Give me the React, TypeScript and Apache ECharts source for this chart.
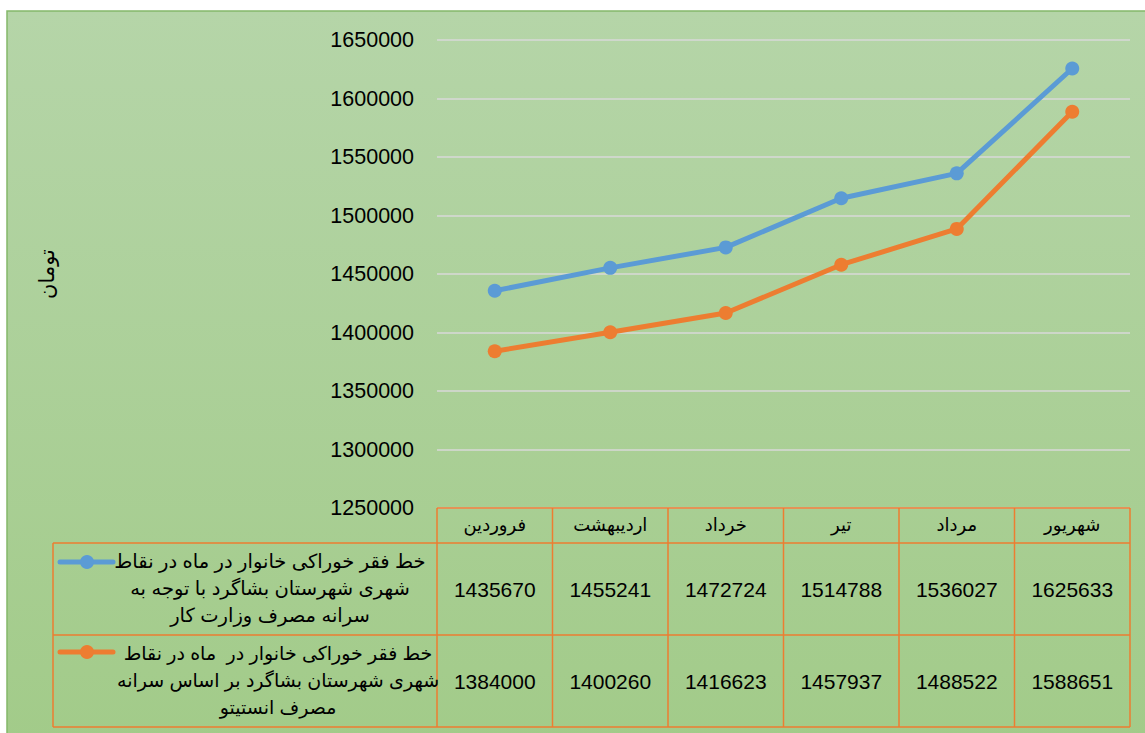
import React, { useEffect, useRef } from "react";
import * as echarts from "echarts";

const categories = ["فروردین", "اردیبهشت", "خرداد", "تیر", "مرداد", "شهریور"];
const seriesNames = [
  "خط فقر خوراکی خانوار در ماه در نقاط\nشهری شهرستان بشاگرد با توجه به\nسرانه مصرف وزارت کار",
  "خط فقر خوراکی خانوار در  ماه در نقاط\nشهری شهرستان بشاگرد بر اساس سرانه\nمصرف انستیتو",
];
const ministryValues = [1435670, 1455241, 1472724, 1514788, 1536027, 1625633];
const instituteValues = [1384000, 1400260, 1416623, 1457937, 1488522, 1588651];
const yMin = 1250000;
const yMax = 1650000;
const yStep = 50000;
const yAxisTitle = "تومان";

const W = 1145;
const H = 733;
const GRID_L = 437;
const GRID_R = 1130;
const GRID_T = 40;
const GRID_B = 508;
const COLORS = ["#5b9bd5", "#ed7d31"];
const TABLE_LINE = "#ed7d31";
const FONT = "'Liberation Sans', Arial, 'DejaVu Sans', sans-serif";

export default function App() {
  const ref = useRef<HTMLDivElement>(null);
  useEffect(() => {
    if (!ref.current) return;
    const chart = echarts.init(ref.current, undefined, { renderer: "svg" });
    const colW = (GRID_R - GRID_L) / categories.length;
    const rowTops = [543, 635, 727];
    const rowsData = [ministryValues, instituteValues];
    const graphics: any[] = [];

    graphics.push({
      type: "rect",
      z: -100,
      silent: true,
      shape: { x: 7, y: 11, width: W, height: H },
      style: {
        fill: new echarts.graphic.LinearGradient(0, 0, 0, 1, [
          { offset: 0, color: "#b5d5a8" },
          { offset: 1, color: "#a2cb89" },
        ]),
        stroke: "#84b869",
        lineWidth: 1.5,
      },
    });

    const ls = { stroke: TABLE_LINE, lineWidth: 1.5 };
    graphics.push({ type: "line", z: 10, shape: { x1: GRID_L, y1: GRID_B, x2: GRID_R, y2: GRID_B }, style: ls });
    rowTops.forEach((y) => {
      graphics.push({ type: "line", z: 10, shape: { x1: 53, y1: y, x2: GRID_R, y2: y }, style: ls });
    });
    graphics.push({ type: "line", z: 10, shape: { x1: 53, y1: 543, x2: 53, y2: 727 }, style: ls });
    for (let i = 0; i <= categories.length; i++) {
      const x = GRID_L + i * colW;
      graphics.push({ type: "line", z: 10, shape: { x1: x, y1: GRID_B, x2: x, y2: 727 }, style: ls });
    }

    categories.forEach((c, i) => {
      graphics.push({
        type: "text",
        z: 10,
        x: GRID_L + (i + 0.5) * colW,
        y: 525,
        style: { text: c, fontSize: 18, fontFamily: FONT, fill: "#000", align: "center", verticalAlign: "middle" },
      });
    });

    const rowCenters = [589, 681];
    rowsData.forEach((vals, r) => {
      vals.forEach((v, i) => {
        graphics.push({
          type: "text",
          z: 10,
          x: GRID_L + (i + 0.5) * colW,
          y: rowCenters[r],
          style: { text: String(v), fontSize: 21, fontFamily: FONT, fill: "#000", align: "center", verticalAlign: "middle" },
        });
      });
    });

    const legendCx = [270, 278];
    const legendCy = [588, 680];
    const legendSize = [19.5, 19];
    const keyY = [562, 652];
    seriesNames.forEach((name, r) => {
      graphics.push({
        type: "text",
        z: 10,
        x: legendCx[r],
        y: legendCy[r],
        style: {
          text: name,
          fontSize: legendSize[r],
          lineHeight: 27,
          fontFamily: FONT,
          fill: "#000",
          align: "center",
          verticalAlign: "middle",
        },
      });
      graphics.push({
        type: "line",
        z: 10,
        shape: { x1: 60, y1: keyY[r], x2: 113, y2: keyY[r] },
        style: { stroke: COLORS[r], lineWidth: 5, lineCap: "round" },
      });
      graphics.push({
        type: "circle",
        z: 11,
        shape: { cx: 87, cy: keyY[r], r: 7 },
        style: { fill: COLORS[r] },
      });
    });

    chart.setOption({
      animation: false,
      grid: { left: GRID_L, right: W - GRID_R, top: GRID_T, bottom: H - GRID_B, containLabel: false },
      xAxis: {
        type: "category",
        data: categories,
        boundaryGap: true,
        axisLine: { show: false },
        axisTick: { show: false },
        axisLabel: { show: false },
      },
      yAxis: {
        type: "value",
        min: yMin,
        max: yMax,
        interval: yStep,
        name: yAxisTitle,
        nameLocation: "middle",
        nameRotate: 90,
        nameGap: 380,
        nameTextStyle: { fontSize: 21, fontFamily: FONT, color: "#000" },
        axisLine: { show: false },
        axisTick: { show: false },
        axisLabel: {
          fontSize: 21.5,
          fontFamily: FONT,
          color: "#000",
          margin: 23,
          formatter: (v: number) => String(v),
        },
        splitLine: { lineStyle: { color: "#d9d9d9", width: 1.5 } },
      },
      series: [
        {
          name: "ministry",
          type: "line",
          data: ministryValues,
          symbol: "circle",
          symbolSize: 14,
          lineStyle: { width: 5, color: COLORS[0] },
          itemStyle: { color: COLORS[0] },
        },
        {
          name: "institute",
          type: "line",
          data: instituteValues,
          symbol: "circle",
          symbolSize: 14,
          lineStyle: { width: 5, color: COLORS[1] },
          itemStyle: { color: COLORS[1] },
        },
      ],
      graphic: { elements: graphics },
    });
    return () => chart.dispose();
  }, []);
  return (
    <div
      ref={ref}
      style={{ position: "fixed", left: 0, top: 0, width: W, height: H, background: "#fff" }}
    />
  );
}
